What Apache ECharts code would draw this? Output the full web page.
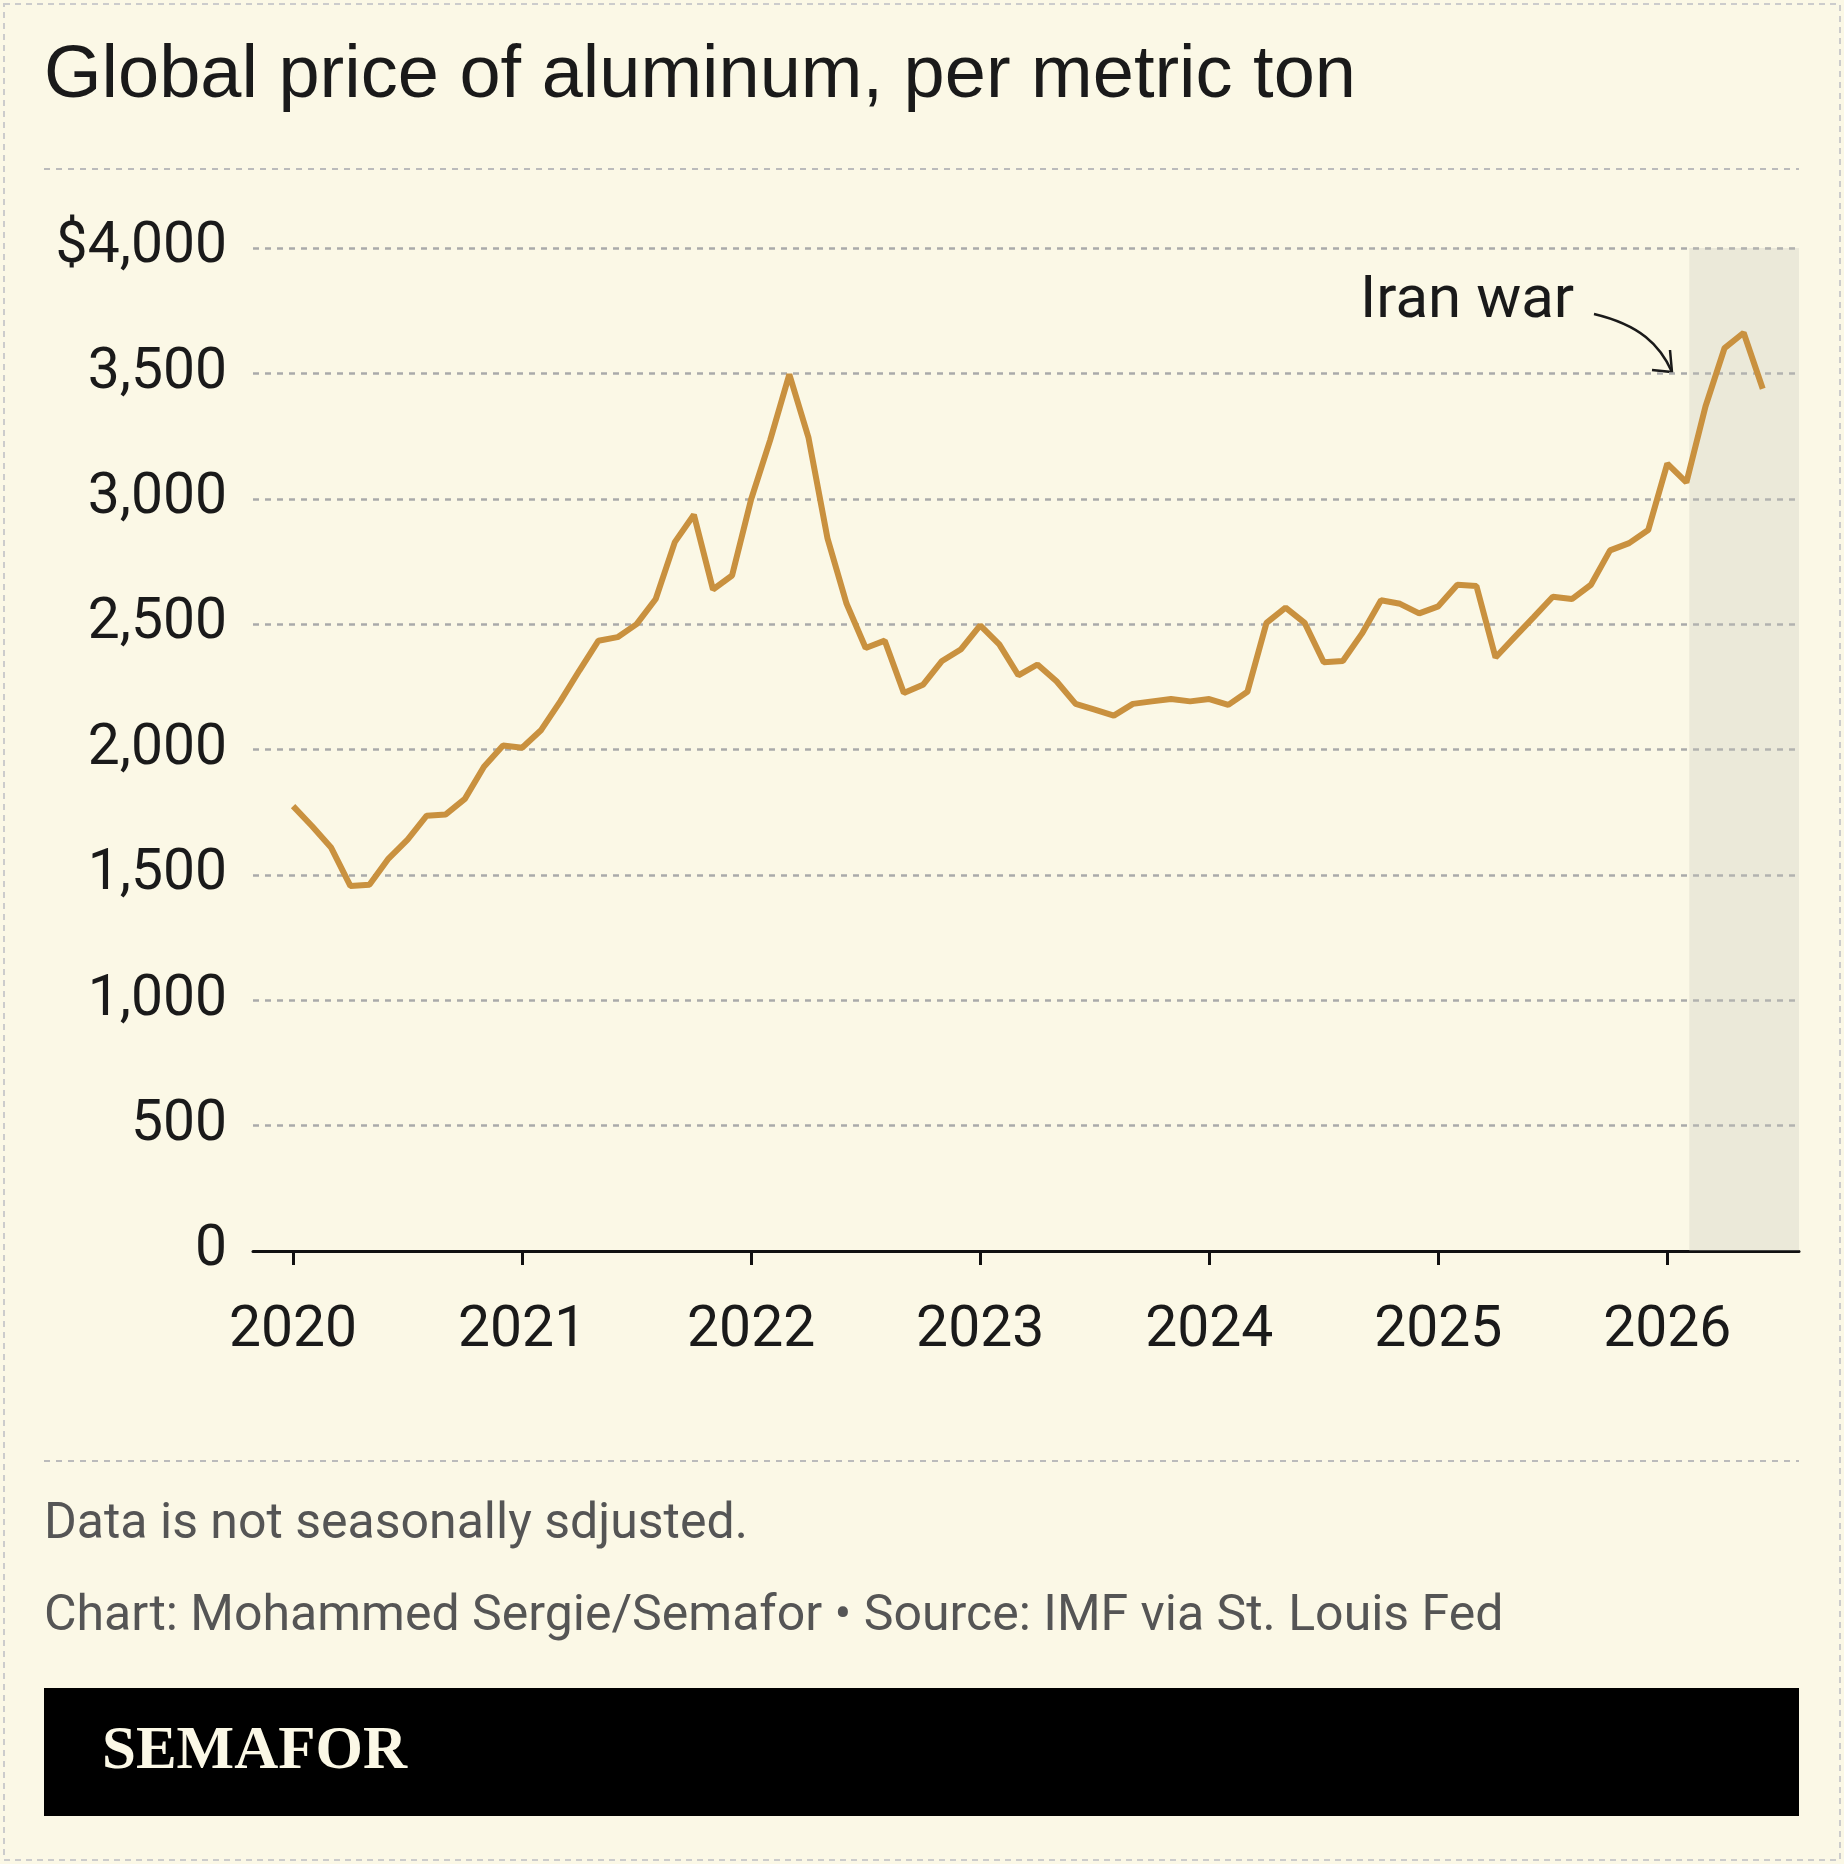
<!DOCTYPE html>
<html><head><meta charset="utf-8">
<script src="https://cdn.jsdelivr.net/npm/echarts@6/dist/echarts.min.js"></script>
<style>html,body{margin:0;padding:0;background:#fbf8e6}#c{width:1844px;height:1864px}</style>
</head><body><div id="c"></div>
<script>
const startYear = 2020;
const prices = [1774,1694,1608,1456,1461,1565,1641,1736,1741,1803,1931,2016,
2007,2078,2192,2315,2434,2448,2500,2600,2827,2936,2638,2694,
2998,3235,3496,3245,2842,2581,2405,2434,2225,2258,2353,2400,
2495,2419,2296,2339,2272,2182,2159,2135,2182,2192,2201,2192,
2201,2178,2230,2505,2566,2505,2348,2353,2462,2595,2581,2543,
2571,2657,2652,2367,2448,2528,2609,2600,2657,2794,2823,2875,
3140,3065,3368,3601,3662,3439];
const yearTicks = [0,12,24,36,48,60,72];
const yTicks = [0,500,1000,1500,2000,2500,3000,3500,4000];
const warStart = 73.15;
const data = prices.map((v,i)=>[i,v]);
const chart = echarts.init(document.getElementById('c'));
const F = 'Roboto, "Noto Sans", sans-serif';
chart.setOption({
  backgroundColor:'#fbf8e6',
  animation:false,
  grid:{left:253,right:45,top:248,bottom:613},
  xAxis:{type:'value',min:-2.1,max:78.9,
    axisLine:{lineStyle:{color:'#111',width:3}},
    axisTick:{customValues:yearTicks,length:14,lineStyle:{color:'#111',width:3}},
    axisLabel:{customValues:yearTicks,formatter:v=>String(startYear+Math.round(v/12)),fontSize:57,fontFamily:F,color:'#1a1a1a',margin:52},
    splitLine:{show:false}},
  yAxis:{type:'value',min:0,max:4000,interval:500,
    axisLine:{show:false},axisTick:{show:false},
    axisLabel:{formatter:v=>v===4000?'$4,000':v.toLocaleString('en-US'),fontSize:57,fontFamily:F,color:'#1a1a1a',margin:26,lineHeight:57,padding:[18,0,0,0]},
    splitLine:{lineStyle:{color:'#aaa',type:[6,6],width:2.5}}},
  series:[{type:'line',data:data,showSymbol:false,lineStyle:{color:'#c9913f',width:6},z:3,
    markArea:{silent:true,itemStyle:{color:'rgba(200,200,190,0.3)'},data:[[{xAxis:warStart,yAxis:4000},{xAxis:78.9,yAxis:0}]]}}],
  graphic:[
    {type:'rect',shape:{x:4,y:4,width:1836,height:1856},style:{fill:'none',stroke:'#ccc',lineWidth:2,lineDash:[6,5]}},
    {type:'text',left:44,top:40,style:{text:'Global price of aluminum, per metric ton',font:'74px "Liberation Sans", Arial, sans-serif',fill:'#1a1a1a'}},
    {type:'line',shape:{x1:44,y1:169,x2:1799,y2:169},style:{stroke:'#bbb',lineWidth:2,lineDash:[6,6]}},
    {type:'line',shape:{x1:44,y1:1461,x2:1799,y2:1461},style:{stroke:'#bbb',lineWidth:2,lineDash:[6,6]}},
    {type:'text',left:44,top:1500,style:{text:'Data is not seasonally sdjusted.',font:'50px '+F,fill:'#555'}},
    {type:'text',left:44,top:1592,style:{text:'Chart: Mohammed Sergie/Semafor • Source: IMF via St. Louis Fed',font:'50px '+F,fill:'#555'}},
    {type:'rect',shape:{x:44,y:1688,width:1755,height:128},style:{fill:'#000'}},
    {type:'text',left:102,top:1722,style:{text:'SEMAFOR',font:'bold 61px "Liberation Serif","DejaVu Serif",serif',fill:'#fbf8e6'}},
    {type:'text',left:1360,top:272,style:{text:'Iran war',font:'60px '+F,fill:'#1a1a1a'}},
    {type:'bezierCurve',shape:{x1:1594,y1:314,x2:1672,y2:372,cpx1:1640,cpy1:325,cpx2:1660,cpy2:345},style:{stroke:'#1a1a1a',lineWidth:2.5,fill:'none'}},
    {type:'polyline',shape:{points:[[1652,370],[1672,372],[1670,350]]},style:{stroke:'#1a1a1a',lineWidth:2.5,fill:'none'}}
  ]
});
</script></body></html>
